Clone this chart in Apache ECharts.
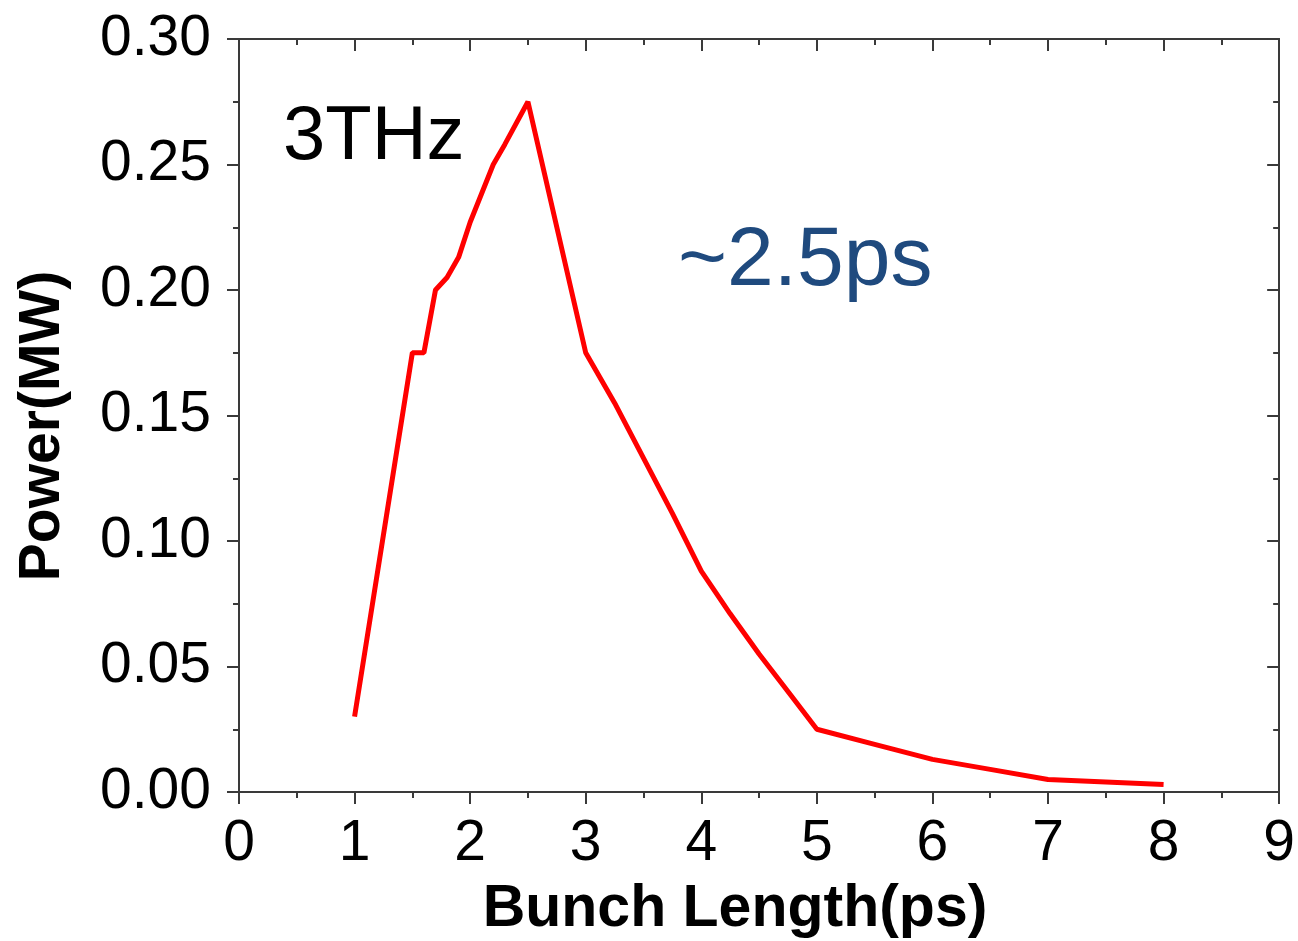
<!DOCTYPE html>
<html><head><meta charset="utf-8">
<script src="https://cdn.jsdelivr.net/npm/echarts@6/dist/echarts.min.js"></script>
<style>html,body{margin:0;padding:0;background:#fff}#c{width:1298px;height:941px}</style>
</head><body><div id="c"></div>
<script>
const bunchLength = [1.0, 1.5, 1.6, 1.7, 1.8, 1.9, 2.0, 2.2, 2.3, 2.5, 3.0, 3.25, 3.5, 3.75, 4.0, 4.25, 4.5, 4.75, 5.0, 5.5, 6.0, 6.5, 7.0, 7.5, 8.0];
const power = [0.030, 0.175, 0.175, 0.200, 0.205, 0.213, 0.227, 0.250, 0.258, 0.275, 0.175, 0.155, 0.133, 0.111, 0.088, 0.071, 0.055, 0.040, 0.025, 0.019, 0.013, 0.009, 0.005, 0.004, 0.003];
const xTitle = 'Bunch Length(ps)';
const yTitle = 'Power(MW)';
const note1 = '3THz';
const note2 = '~2.5ps';

const chart = echarts.init(document.getElementById('c'));
const axisCol = '#3a3a3a';
const font = 'Liberation Sans, Arial, sans-serif';
const baseAxis = {
  axisLine: {show: true, onZero: false, lineStyle: {color: axisCol, width: 2}},
  splitLine: {show: false},
  minorTick: {show: true, splitNumber: 2, length: 6, lineStyle: {color: axisCol, width: 2}},
  axisTick: {show: true, length: 12, lineStyle: {color: axisCol, width: 2}}
};
chart.setOption({
  animation: false,
  grid: {left: 239, right: 16, top: 39, bottom: 149, containLabel: false},
  xAxis: [
    Object.assign({}, baseAxis, {
      type: 'value', min: 0, max: 9, interval: 1, position: 'bottom',
      axisLabel: {fontSize: 57, color: '#000', fontFamily: font, margin: 24}
    }),
    Object.assign({}, baseAxis, {
      type: 'value', min: 0, max: 9, interval: 1, position: 'top',
      axisLabel: {show: false},
      axisTick: {show: true, inside: true, length: 12, lineStyle: {color: axisCol, width: 2}},
      minorTick: {show: true, splitNumber: 2, length: 6, lineStyle: {color: axisCol, width: 2}}
    })
  ],
  yAxis: [
    Object.assign({}, baseAxis, {
      type: 'value', min: 0, max: 0.30, interval: 0.05, position: 'left',
      axisLabel: {fontSize: 57, color: '#000', fontFamily: font, margin: 28,
        formatter: v => v.toFixed(2)}
    }),
    Object.assign({}, baseAxis, {
      type: 'value', min: 0, max: 0.30, interval: 0.05, position: 'right',
      axisLabel: {show: false},
      axisTick: {show: true, inside: true, length: 12, lineStyle: {color: axisCol, width: 2}},
      minorTick: {show: true, splitNumber: 2, length: 6, lineStyle: {color: axisCol, width: 2}}
    })
  ],
  graphic: [
    {type: 'text', left: 283, top: 100, style: {text: note1, fontSize: 76, fill: '#000', fontFamily: font}},
    {type: 'text', left: 678, top: 220, style: {text: note2, fontSize: 84, fill: '#1f4a7e', fontFamily: font}},
    {type: 'text', x: 735, y: 910, style: {text: xTitle, fontSize: 59, fontWeight: 'bold', fill: '#000', fontFamily: font, align: 'center', verticalAlign: 'middle'}},
    {type: 'text', x: 43, y: 426, rotation: Math.PI / 2, style: {text: yTitle, fontSize: 57, fontWeight: 'bold', fill: '#000', fontFamily: font, align: 'center', verticalAlign: 'middle'}}
  ],
  series: [{
    type: 'line', xAxisIndex: 0, yAxisIndex: 0,
    data: bunchLength.map((x, i) => [x, power[i]]),
    showSymbol: false, symbol: 'none',
    lineStyle: {color: '#ff0000', width: 5}
  }]
});
</script></body></html>
